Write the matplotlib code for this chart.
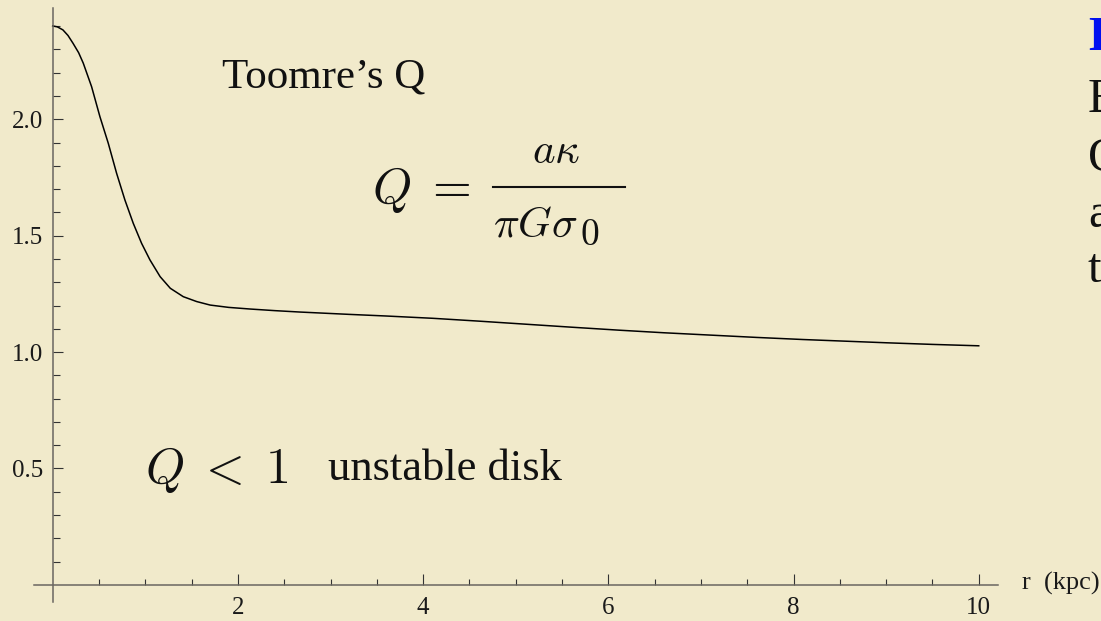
import matplotlib
matplotlib.use('Agg')
import matplotlib.pyplot as plt
from matplotlib.lines import Line2D

matplotlib.rcParams['mathtext.fontset'] = 'cm'
matplotlib.rcParams['font.family'] = ['Liberation Serif', 'DejaVu Serif']

# Toomre Q vs radius
r_kpc = [0.0, 0.05, 0.11, 0.165, 0.22, 0.28, 0.33, 0.42, 0.51, 0.60, 0.69, 0.78, 0.87, 0.96,
         1.05, 1.16, 1.27, 1.41, 1.555, 1.70, 1.90, 2.13, 2.40, 2.67, 3.2,
         3.6, 4.11, 4.6, 5.1, 5.6, 6.12, 6.6, 7.1, 7.6, 8.1, 8.55, 9.0, 9.5, 10.0]
q_vals = [2.401, 2.397, 2.384, 2.360, 2.326, 2.286, 2.241, 2.140, 2.011, 1.897, 1.768, 1.653, 1.553, 1.467,
          1.396, 1.324, 1.274, 1.238, 1.217, 1.202, 1.192, 1.185, 1.178, 1.172, 1.162,
          1.155, 1.145, 1.133, 1.120, 1.107, 1.094, 1.083, 1.073, 1.063, 1.054, 1.047, 1.040, 1.033, 1.027]

x_major = [2, 4, 6, 8, 10]
y_major = [0.5, 1.0, 1.5, 2.0]
y_labels = ['0.5', '1.0', '1.5', '2.0']

bg = '#F1EACB'
W, H = 1101, 621
fig = plt.figure(figsize=(W / 100, H / 100), dpi=100, facecolor=bg)
ax = fig.add_axes([34 / W, 1 - 602 / H, (998 - 34) / W, (602 - 8) / H])
ax.patch.set_alpha(0)

ax.plot(r_kpc, q_vals, color='black', lw=1.1)

ax.set_xlim(-0.202, 10.208)
ax.set_ylim(-0.0735, 2.478)

for s in ['top', 'right']:
    ax.spines[s].set_visible(False)
for s in ['left', 'bottom']:
    ax.spines[s].set_position(('data', 0))
    ax.spines[s].set_color('#6a6660')
    ax.spines[s].set_linewidth(1.1)

ax.set_xticks(x_major)
ax.set_xticklabels([str(v) for v in x_major])
ax.set_xticks([v / 2 for v in range(1, 20) if v % 4 != 0], minor=True)
ax.set_yticks(y_major)
ax.set_yticklabels(y_labels)
ax.set_yticks([v / 10 for v in range(1, 25) if v % 5 != 0], minor=True)

ax.tick_params(axis='both', which='both', direction='in', color='#333333',
               width=0.8, labelcolor='#1a1a1a', labelsize=18)
ax.tick_params(axis='x', which='major', length=8, pad=9)
ax.tick_params(axis='x', which='minor', length=4.3)
ax.tick_params(axis='y', which='major', length=7.2, pad=7)
ax.tick_params(axis='y', which='minor', length=4.8)

def px(x, y):
    return x / W, 1 - y / H

ink = '#111111'
fig.text(*px(1022, 590), 'r  (kpc)', fontsize=19, color='#1a1a1a', va='baseline', ha='left')

fig.text(*px(222, 88), "Toomre\u2019s Q", fontsize=31, color=ink, va='baseline', ha='left')

# Q = a kappa / (pi G sigma_0)
fig.text(*px(372, 203), r'$Q\;=$', fontsize=36, color=ink, va='baseline', ha='left')
fig.text(*px(532, 163), r'$a\kappa$', fontsize=31, color=ink, va='baseline', ha='left')
fig.add_artist(Line2D([493 / W, 625 / W], [1 - 187 / H, 1 - 187 / H],
                      transform=fig.transFigure, color=ink, lw=1.5))
fig.text(*px(493, 237), r'$\pi G\sigma$', fontsize=31, color=ink, va='baseline', ha='left')
fig.text(*px(580, 245), r'$0$', fontsize=27, color=ink, va='baseline', ha='left')

fig.text(*px(145, 483), r'$Q\;<\;1$', fontsize=36, color=ink, va='baseline', ha='left')
fig.text(*px(328, 480), 'unstable disk', fontsize=32, color=ink, va='baseline', ha='left')

# slide text cut off at the right edge
fig.text(*px(1088, 50), 'E', fontsize=35, color='#0010F0', fontweight='bold', va='baseline', ha='left')
for lbl, yy in [('E', 112), ('Q', 170), ('a', 227), ('t', 282)]:
    fig.text(*px(1088, yy), lbl, fontsize=35, color=ink, va='baseline', ha='left')

fig.savefig('out.png', dpi=100, facecolor=bg)
